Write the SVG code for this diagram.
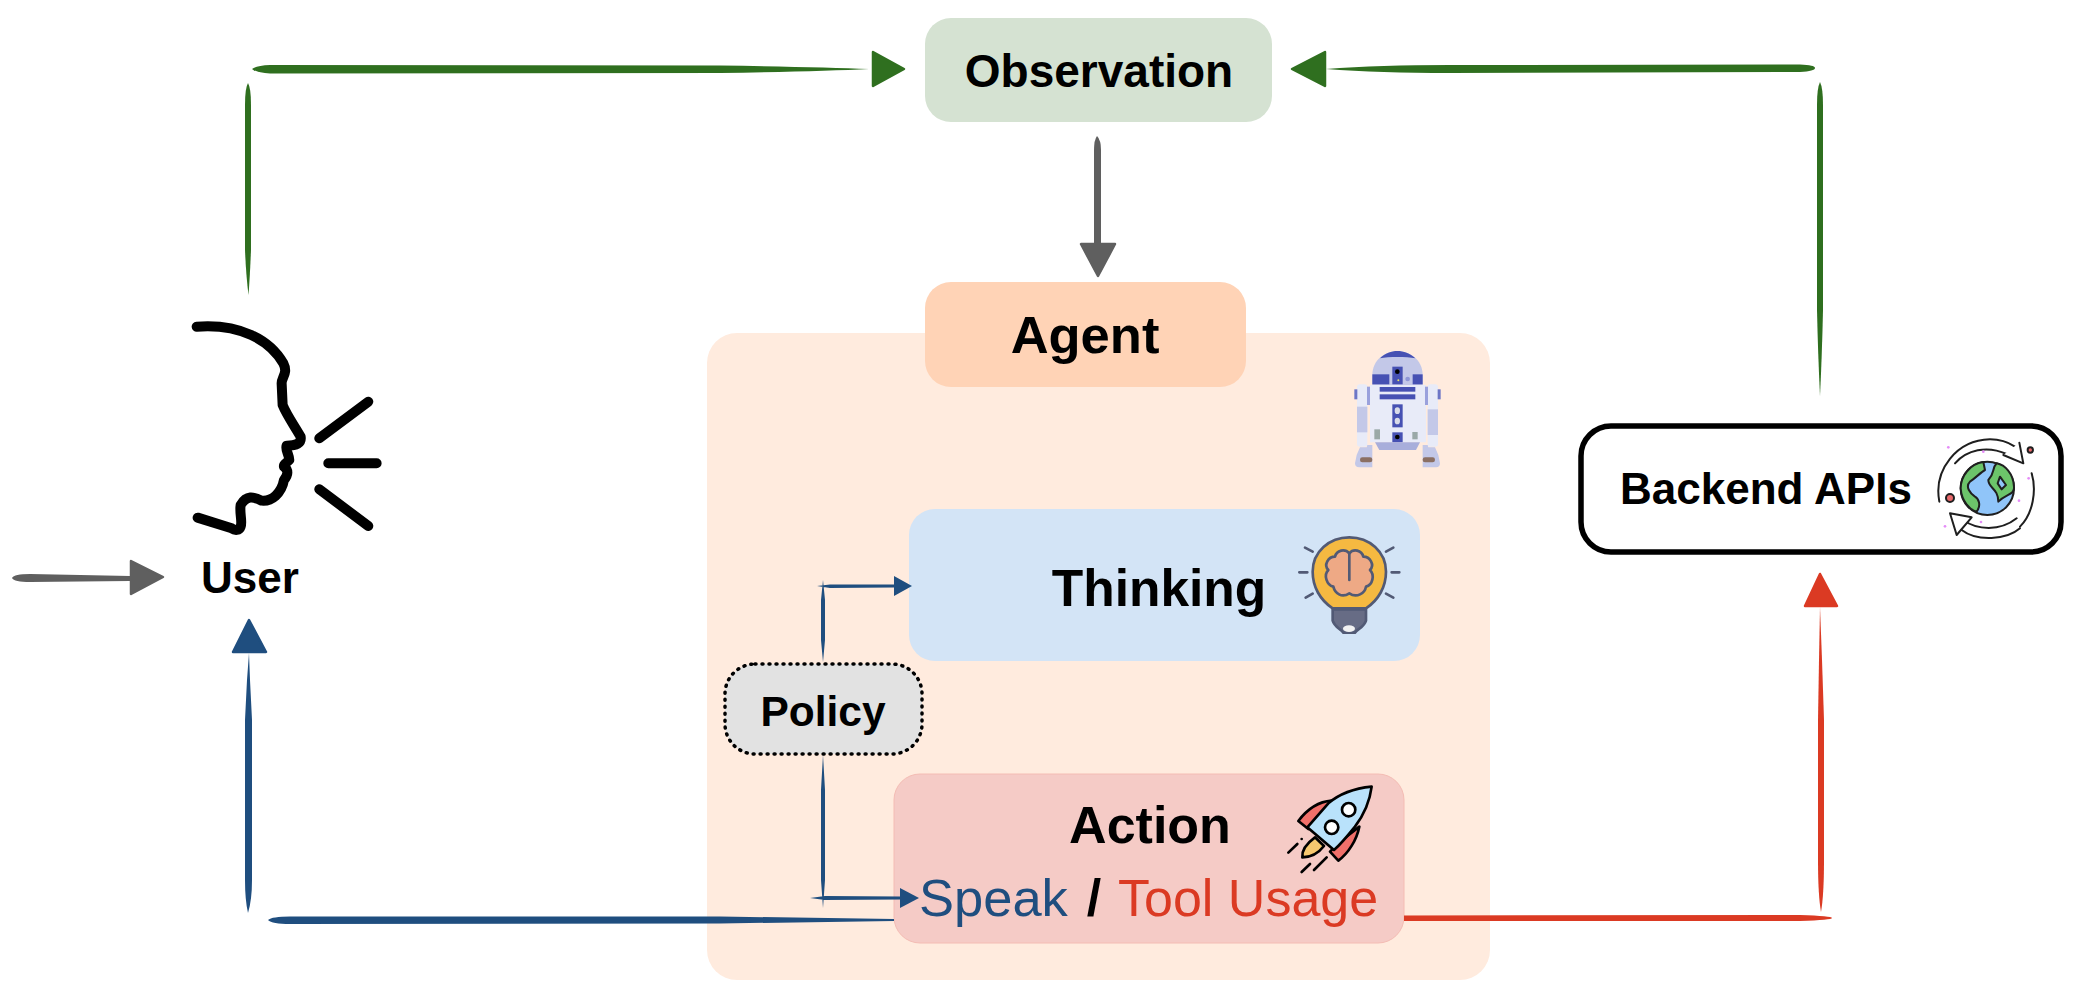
<svg xmlns="http://www.w3.org/2000/svg" width="2078" height="996" viewBox="0 0 2078 996">
<style>
text{font-family:"Liberation Sans",Arial,sans-serif;font-weight:700;fill:#000;text-anchor:middle}
.green{fill:#2f6f1f}.gray{fill:#5f5f5f}.blue{fill:#1f4e7f}.red{fill:#db3a23}
.ln{fill:none;stroke:#000;stroke-width:30;stroke-linecap:round;stroke-linejoin:round}
.bulb{stroke:#525a75;stroke-width:8;stroke-linecap:round;stroke-linejoin:round}
.rk{stroke:#000;stroke-width:8;stroke-linecap:round;stroke-linejoin:round}
.gl{stroke:#1f1f1f;stroke-width:6;stroke-linecap:round;stroke-linejoin:round}
.d{fill:#4651b3}.l{fill:#c3c8e8}.w{fill:#e8ebf8}
.pk{fill:#e58cf8}
.hg{fill:#2f6f1f;stroke:#2f6f1f}.hy{fill:#5f5f5f;stroke:#5f5f5f}.hb{fill:#1f4e7f;stroke:#1f4e7f}.hr{fill:#db3a23;stroke:#db3a23}
.hg,.hy,.hb,.hr{stroke-width:2.500;stroke-linejoin:round}
</style>
<rect width="2078" height="996" fill="#fff"/>
<g id="agent-container"><rect x="707" y="333" width="783" height="647" rx="30" fill="#ffebde"/></g>

<g id="observation"><rect x="925" y="18" width="347" height="104" rx="26" fill="#d5e2d2"/><text x="1099" y="87" font-size="46">Observation</text></g>
<g id="agent"><rect x="925" y="282" width="321" height="105" rx="26" fill="#ffd3b6"/><text x="1085" y="353" font-size="52.500">Agent</text></g>

<g id="r2d2" transform="translate(1340 340) scale(.3333)">
<path class="l" d="M97,105C97,60 135,33 172,33C210,33 248,60 248,105L248,135L97,135Z"/>
<path class="d" d="M120,55C135,40 155,33 172,33C190,33 210,40 226,55C200,50 145,50 120,55Z"/>
<rect class="d" x="97" y="103" width="51" height="30"/><rect class="d" x="218" y="103" width="30" height="30"/><rect class="d" x="157" y="80" width="31" height="53"/>
<circle cx="172" cy="95" r="7"/><circle cx="175" cy="121" r="3" fill="#e6e36a"/><circle cx="203" cy="117" r="7" fill="#8f97d6"/>
<rect class="w" x="90" y="135" width="168" height="172"/>
<rect class="d" x="119" y="141" width="107" height="14"/><rect class="d" x="119" y="163" width="107" height="15"/>
<rect class="d" x="157" y="193" width="31" height="69"/><ellipse cx="172" cy="212" rx="8" ry="10" fill="#d8dbe8"/><ellipse cx="172" cy="243" rx="8" ry="10" fill="#d8dbe8"/>
<rect class="d" x="157" y="277" width="31" height="30"/><circle cx="172" cy="291" r="7"/>
<rect x="103" y="268" width="17" height="30" fill="#9aa9a8"/><rect x="217" y="276" width="16" height="22" fill="#9aa9a8"/>
<path fill="#a8aedb" d="M105,307H240L228,330H118Z"/>
<rect class="w" x="51" y="133" width="31" height="187" rx="8"/><rect class="l" x="51" y="200" width="31" height="77"/>
<rect class="w" x="263" y="133" width="31" height="187" rx="8"/><rect class="l" x="263" y="208" width="31" height="77"/>
<rect x="81" y="140" width="9" height="55" fill="#9aa1dc"/><rect x="255" y="140" width="9" height="55" fill="#9aa1dc"/>
<rect x="43" y="148" width="9" height="30" fill="#6d76c6"/><rect x="293" y="148" width="9" height="30" fill="#6d76c6"/>
<path class="l" d="M60,322L80,322L82,315H97V382H58Q45,382 45,370L50,345Z"/><path class="l" d="M248,315H263L265,322H285L295,345L300,370Q300,382 288,382H248Z"/>
<rect x="60" y="352" width="37" height="15" rx="7" fill="#8b6f63"/><rect x="248" y="352" width="37" height="15" rx="7" fill="#8b6f63"/>
</g>

<g id="thinking"><rect x="909" y="509" width="511" height="152" rx="26" fill="#d3e4f6"/><text x="1159" y="606" font-size="51.500">Thinking</text>
<g transform="translate(1260 500) scale(.3333)">
<path class="bulb" fill="#f5b941" d="M218,325C180,300 158,260 158,215C158,155 208,112 268,112C328,112 378,155 378,215C378,260 356,300 318,325Z"/>
<path class="bulb" fill="#676c85" d="M218,328H318V362C312,382 295,385 285,398H250C240,385 224,382 218,362Z"/>
<ellipse cx="267" cy="386" rx="18" ry="10" fill="#f2f2f2"/>
<path class="bulb" fill="#eea985" d="M268,160C255,145 230,150 225,170C205,170 190,195 205,210C190,225 200,255 220,260C225,280 245,295 268,280C290,295 315,280 318,260C338,255 345,225 330,210C345,195 330,170 310,170C305,150 280,145 268,160Z"/>
<path class="bulb" fill="none" d="M268,160V240M135,143L158,155M118,217H142M137,293L158,281M400,143L378,155M418,217H395M400,293L378,281"/>
</g></g>

<g id="action"><rect x="894" y="774" width="510" height="169" rx="26" fill="#f5cbc6" stroke="#f4bcb4" stroke-width="1"/>
<text x="1150" y="843" font-size="52">Action</text>
<text x="919" y="916" font-size="52.500" style="text-anchor:start;font-weight:400;fill:#1f4e7f">Speak</text>
<text x="1094" y="916" font-size="52">/</text>
<text x="1118" y="916" font-size="52" style="text-anchor:start;font-weight:400;fill:#db3a23">Tool Usage</text>
<g transform="translate(1260 770) scale(.3333)">
<path class="rk" fill="#f0706a" d="M215,92C175,95 140,120 115,153L145,177Z"/>
<path class="rk" fill="#f0706a" d="M298,170C290,210 265,250 235,272L210,245L240,215Z"/>
<path class="rk" fill="#f6c86f" d="M165,202C140,220 125,240 127,262C150,262 175,250 192,228Z"/>
<path class="rk" fill="#b9e2fb" d="M335,50C285,55 240,70 205,100L142,172L222,240C240,225 265,195 285,170C315,130 330,90 335,50Z"/>
<circle class="rk" cx="266" cy="119" r="20" fill="#fff"/><circle class="rk" cx="215" cy="172" r="20" fill="#fff"/>
<path class="rk" fill="none" d="M85,248L112,222M125,306L150,282M162,300L200,262"/><circle cx="125" cy="207" r="4"/>
</g></g>

<g id="policy"><rect x="725" y="664" width="197" height="90" rx="30" fill="#e2e2e2" stroke="#000" stroke-width="3.500" stroke-dasharray="1 6" stroke-linecap="round"/><text x="823" y="726" font-size="42.500">Policy</text></g>

<g id="user"><g transform="translate(0 280) scale(.3333)">
<path class="ln" d="M590,140C720,130 810,180 850,250C865,280 845,290 845,310L848,375C860,405 885,440 902,470C905,490 890,497 860,497C855,510 868,525 868,540C860,550 850,550 852,560C866,570 865,585 852,600C845,640 815,665 785,662C760,650 740,645 722,675C718,700 728,725 722,740C718,752 705,752 695,745L593,713"/>
<path class="ln" d="M958,475L1105,365M985,550H1130M958,628L1105,738"/>
</g><text x="250" y="593" font-size="44">User</text></g>

<g id="backend"><rect x="1581" y="426" width="480" height="126" rx="30" fill="#fff" stroke="#000" stroke-width="5.500"/><text x="1766" y="504" font-size="44">Backend APIs</text>
<g transform="translate(1920 430) scale(.3333)">
<circle class="gl" cx="202" cy="175" r="80" fill="#90c5f9"/>
<path class="gl" fill="#6cc46a" d="M190,96C150,100 122,140 122,175C125,215 150,240 170,245C185,225 175,205 165,200C150,190 135,170 150,155C165,145 185,125 195,120Z"/>
<path class="gl" fill="#6cc46a" d="M230,100C215,115 225,130 205,150C205,175 235,175 235,215C260,190 285,195 282,170C280,130 255,105 230,100Z"/>
<path class="gl" fill="#90c5f9" d="M240,140L258,165L245,178L233,160Z"/>
<path class="gl" fill="none" d="M58,215C40,120 110,30 210,28C245,28 270,40 285,50M105,100C140,60 200,45 260,72M335,130C350,180 340,250 300,290M125,300C170,335 260,330 300,295M130,270C170,300 240,305 290,265"/>
<path class="gl" fill="#fff" d="M298,38L310,100L250,75"/>
<path class="gl" fill="#fff" d="M90,250L155,262L110,315Z"/>
<circle class="gl" cx="331" cy="60" r="8" fill="#e8696b"/><circle class="gl" cx="90" cy="204" r="12" fill="#e8696b"/>
<circle class="pk" cx="85" cy="52" r="4"/><circle class="pk" cx="190" cy="65" r="4"/><circle class="pk" cx="326" cy="145" r="4"/><circle class="pk" cx="297" cy="212" r="4"/><circle class="pk" cx="183" cy="276" r="4"/><circle class="pk" cx="75" cy="289" r="4"/>
</g></g>

<g id="connectors">
<path class="green" d="M252,69Q256,65.500 270,65L720,65.500Q820,67 869,69Q820,71.500 720,73L270,73.500Q256,72.500 252,69Z"/>
<path class="hg" d="M873,52L904,69L873,86Z"/>
<path class="green" d="M248,83Q251,88 251,105V250Q250,275 248.500,295Q246,275 245,250V105Q245,88 248,83Z"/>
<path class="gray" d="M1097,136Q1101,140 1101,150V243H1094V150Q1094,140 1097,136Z"/>
<path class="hy" d="M1081,244H1115L1098,276Z"/>
<path class="green" d="M1326,69Q1380,65 1450,65L1800,64.500Q1815,65 1815,68Q1815,71 1800,72L1450,73Q1380,73 1326,69Z"/>
<path class="hg" d="M1325,52L1292,69L1325,86Z"/>
<path class="green" d="M1820,82Q1823,88 1823,105V310Q1822,355 1820,396Q1818,355 1817,310V105Q1817,88 1820,82Z"/>
<path class="red" d="M1820,607L1822,660L1824,720V860Q1824,895 1821,912Q1818,895 1818,860V720L1819,660Z"/>
<path class="hr" d="M1820,574L1837,606H1805Z"/>
<path class="red" d="M1404,915.500L1800,915Q1832,916 1832,918Q1832,920 1800,921L1404,921Z"/>
<path class="blue" d="M249,653L250,680L252,720V880Q252,900 248,913Q245,900 245,880V720L247,680Z"/>
<path class="hb" d="M249,620L266,652H233Z"/>
<path class="blue" d="M268,920Q272,916.500 290,916.500L720,916.500L894,919V921L720,923.500L290,924Q272,924 268,920Z"/>
<path class="gray" d="M12,578Q14,574 30,574L130,576V581L30,582Q14,582 12,578Z"/>
<path class="hy" d="M131,561L163,577L131,594Z"/>
<path class="blue" d="M823,580L825,600V640L823,662L821,640V600ZM817,586L830,584.500L894,584.500V587.500L830,588Z"/>
<path class="blue" d="M894,576L912,586L894,596Z"/>
<path class="blue" d="M823,755L825,790V880L823,908L821,880V790ZM810,898L825,896L900,896.500V899.500L825,900Z"/>
<path class="blue" d="M900,888L919,898L900,908Z"/>
</g>
</svg>
